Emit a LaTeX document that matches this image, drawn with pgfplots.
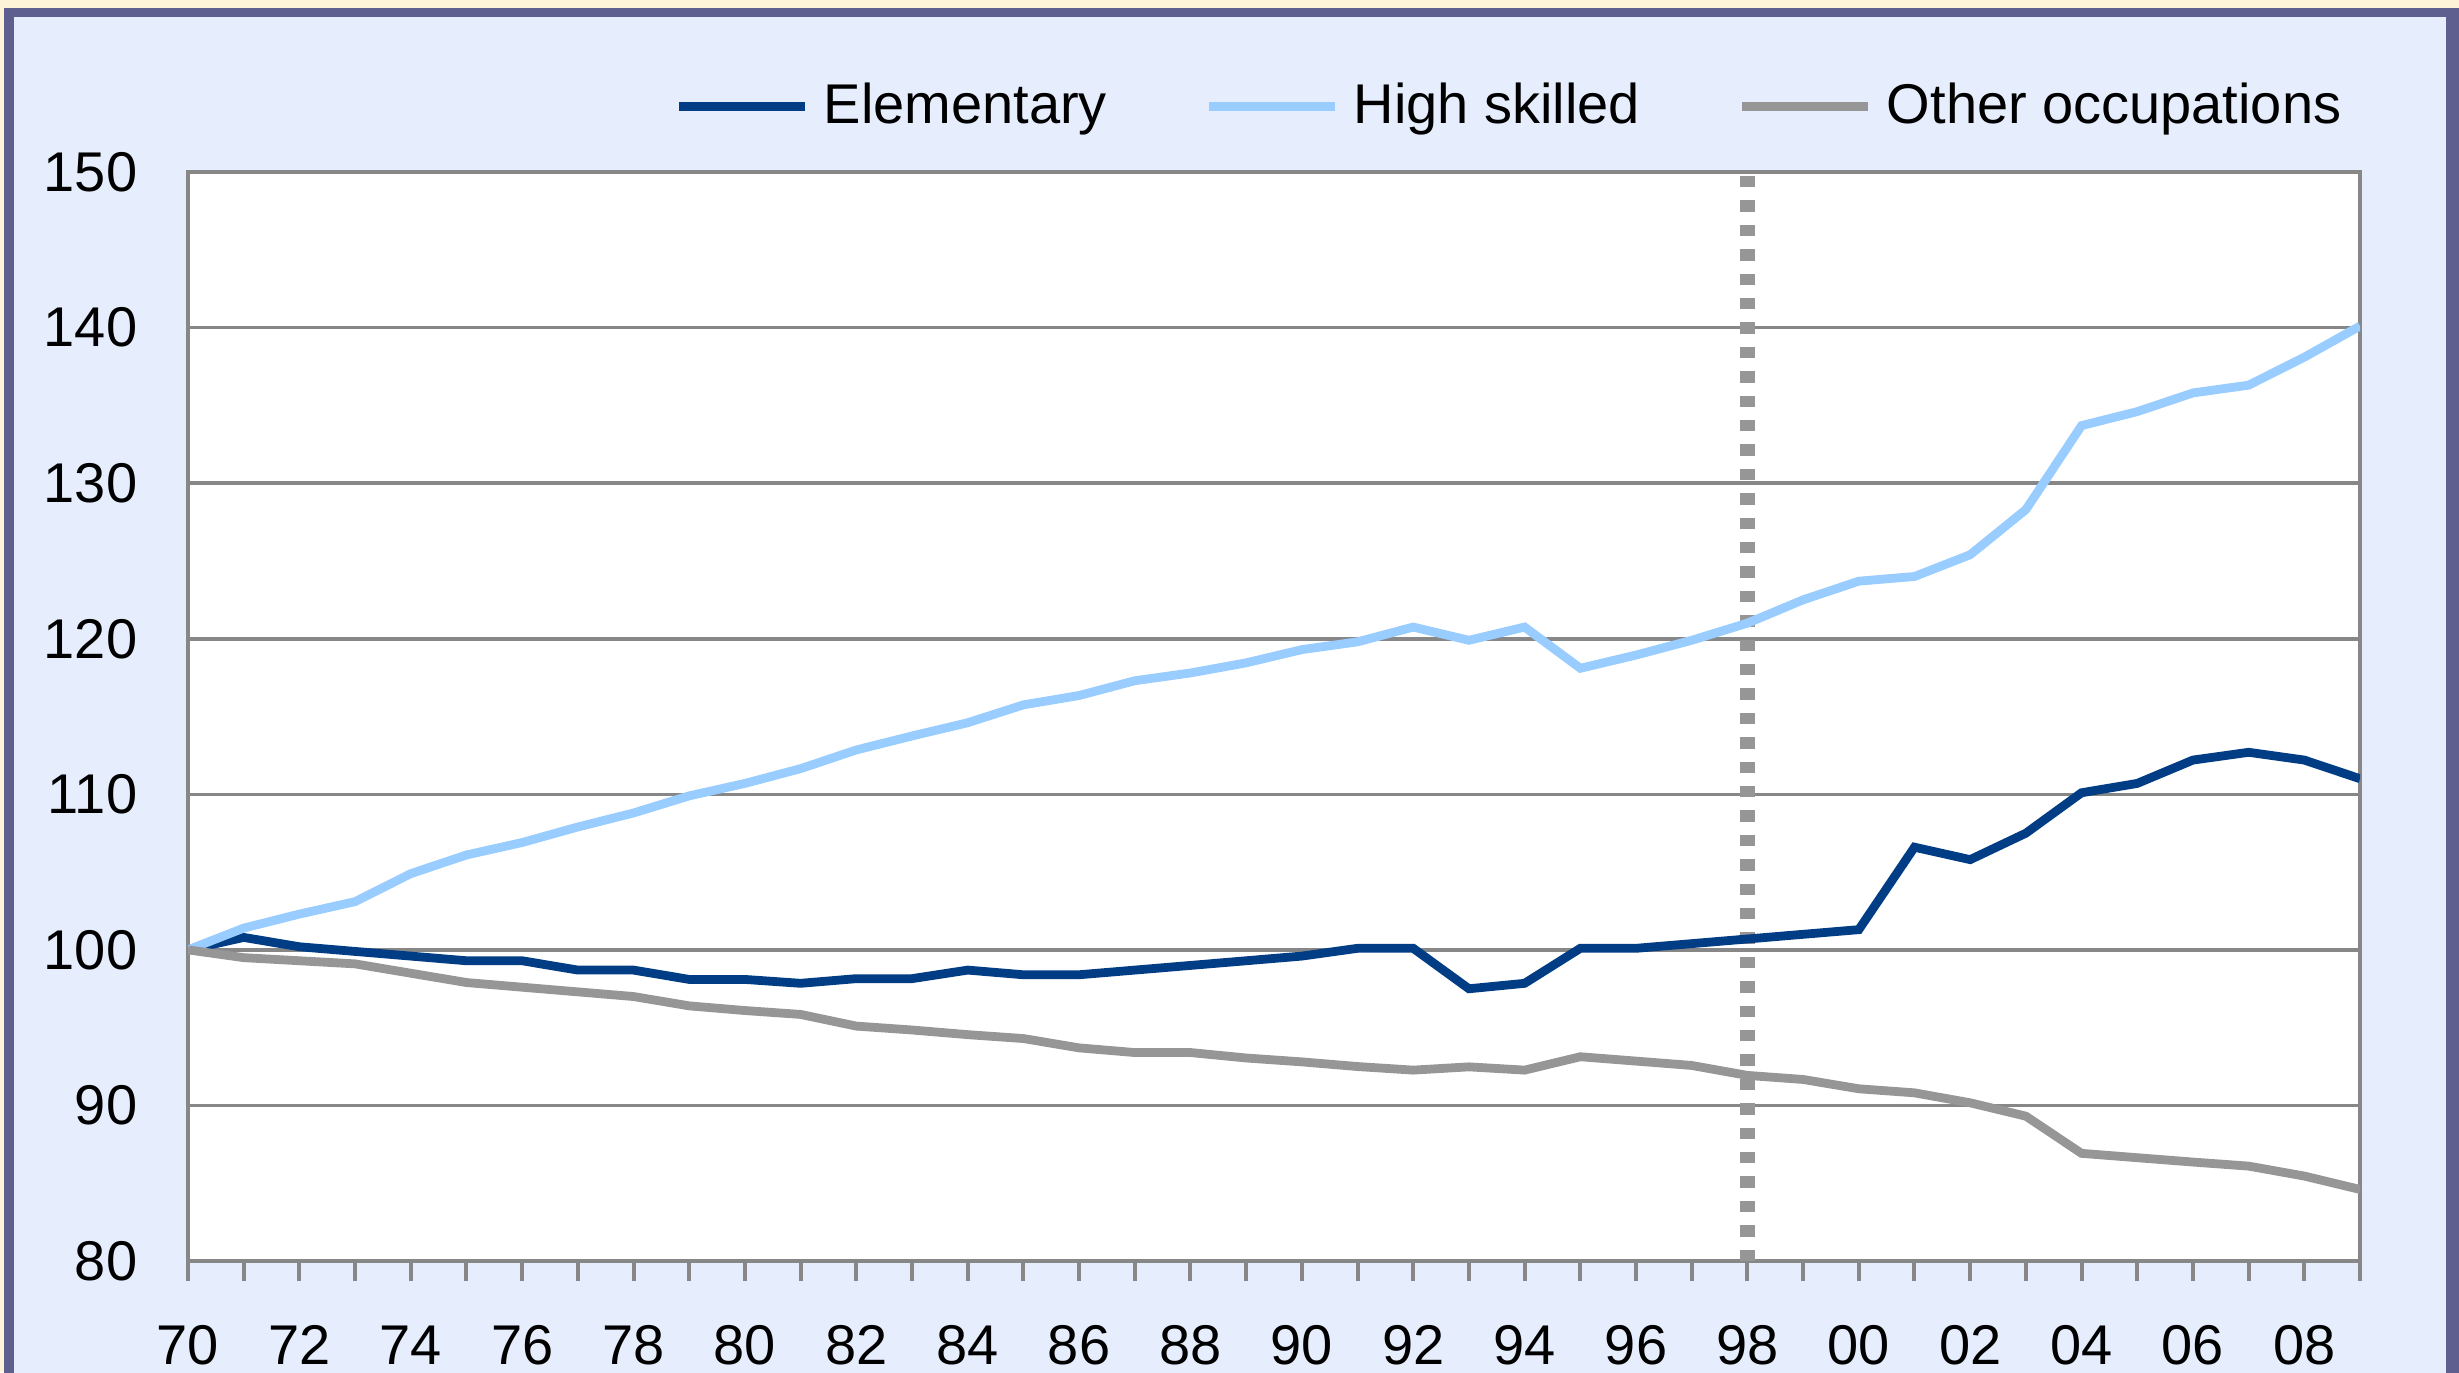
\documentclass[border=0pt]{standalone}
\usepackage{pgfplots}
\pgfplotsset{compat=1.18}
\usepackage{fontspec}
\setmainfont{Liberation Sans}
\definecolor{cream}{HTML}{FDF3D8}
\definecolor{frame}{HTML}{5F5F8F}
\definecolor{panel}{HTML}{E6EDFC}
\definecolor{elem}{HTML}{003D85}
\definecolor{high}{HTML}{99CCFF}
\definecolor{other}{HTML}{969696}
\definecolor{gridc}{HTML}{878787}
\pgfplotstableread{
year elem high other
1970 100 100 100
1971 100.8 101.4 99.5
1972 100.2 102.3 99.3
1973 99.9 103.1 99.1
1974 99.6 104.9 98.5
1975 99.3 106.1 97.9
1976 99.3 106.9 97.6
1977 98.7 107.9 97.3
1978 98.7 108.8 97.0
1979 98.1 109.9 96.4
1980 98.1 110.7 96.1
1981 97.85 111.65 95.85
1982 98.15 112.85 95.1
1983 98.15 113.75 94.85
1984 98.7 114.6 94.55
1985 98.4 115.75 94.3
1986 98.4 116.35 93.7
1987 98.7 117.3 93.4
1988 99.0 117.8 93.4
1989 99.3 118.45 93.05
1990 99.6 119.3 92.8
1991 100.1 119.8 92.5
1992 100.1 120.75 92.27
1993 97.5 119.9 92.48
1994 97.85 120.75 92.27
1995 100.1 118.1 93.13
1996 100.1 118.95 92.85
1997 100.4 119.9 92.57
1998 100.7 121.0 91.93
1999 101.0 122.5 91.67
2000 101.3 123.7 91.07
2001 106.6 124.0 90.81
2002 105.8 125.4 90.17
2003 107.5 128.3 89.31
2004 110.1 133.7 86.92
2005 110.7 134.6 86.64
2006 112.2 135.8 86.36
2007 112.7 136.3 86.1
2008 112.2 138.1 85.46
2009 111.0 140.1 84.6
}\datatable
\begin{document}
\begin{tikzpicture}
\fill[cream] (0pt,0pt) rectangle (614.75pt,343pt);
\fill[frame] (1pt,-20pt) rectangle (630pt,341pt);
\fill[panel] (3.5pt,-20pt) rectangle (611.5pt,338.75pt);
\begin{axis}[
  at={(47pt,27.75pt)}, anchor=south west,
  scale only axis, width=543pt, height=272.25pt,
  xmin=1970, xmax=2009, ymin=80, ymax=150,
  axis background/.style={fill=white},
  font=\fontsize{14}{16}\selectfont,
  /pgf/number format/assume math mode=true,
  axis line style={draw=gridc, line width=1.2pt},
  ymajorgrids, grid style={draw=gridc, line width=0.9pt},
  ytick={80,90,...,150},
  ytick style={draw=none},
  yticklabel style={anchor=east, inner sep=0pt, xshift=-12.5pt},
  xtick={1970,1972,...,2008},
  xticklabels={70,72,74,76,78,80,82,84,86,88,90,92,94,96,98,00,02,04,06,08},
  minor xtick={1971,1973,...,2009},
  xtick pos=bottom, xtick align=outside,
  major tick length=5pt, minor tick length=5pt,
  xtick style={draw=gridc, line width=1pt},
  minor x tick style={draw=gridc, line width=1pt},
  xticklabel style={anchor=base, inner sep=0pt, yshift=-20.85pt},
  legend columns=3,
  legend style={at={(0.2238,1.060)}, anchor=west, draw=none, fill=none,
    inner sep=0pt, nodes={inner sep=0pt},
    font=\fontsize{14}{16}\selectfont,
    /tikz/every odd column/.append style={column sep=3.5pt},
    /tikz/every even column/.append style={column sep=24.5pt}},
  legend image code/.code={\draw[#1] (0pt,0pt) -- (31.5pt,0pt);},
  every axis plot/.append style={line width=2.2pt, line join=miter},
]
\addplot[other, line width=3.75pt, dash pattern=on 2.85pt off 3.25pt, forget plot] coordinates {(1998,80) (1998,150)};
\addplot[elem, no marks] table[x=year, y=elem] {\datatable};
\addlegendentry{Elementary}
\addplot[high, no marks] table[x=year, y=high] {\datatable};
\addlegendentry{High skilled}
\addplot[other, no marks] table[x=year, y=other] {\datatable};
\addlegendentry{Other occupations}
\end{axis}
\pgfresetboundingbox
\useasboundingbox (0pt,0pt) rectangle (614.75pt,343pt);
\end{tikzpicture}
\end{document}
